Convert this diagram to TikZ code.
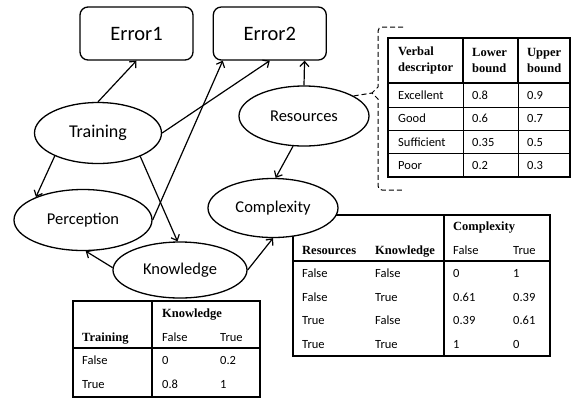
\documentclass[tikz,border=0pt]{standalone}
\usepackage{fontspec}
\setmainfont{Carlito}
\newfontfamily\hdrfont{Liberation Serif}
\usepackage{tikz}
\usetikzlibrary{positioning,shapes.geometric,arrows.meta}

\newcommand{\tabfont}{\fontsize{12.5}{15}\selectfont}
\newcommand{\hdrstyle}{\hdrfont\bfseries\fontsize{12.5}{16}\selectfont}

\begin{document}
\begin{tikzpicture}[
					x=1pt, y=-1pt,
					var/.style={
						draw, ellipse, line width=1.3pt, fill=white, inner sep=0pt,
						font=\fontsize{16.5}{18}\selectfont
					},
					err/.style={
						draw, rounded corners=8pt, line width=1.3pt, fill=white,
						minimum width=113pt, minimum height=53pt,
						font=\fontsize{20.5}{22}\selectfont
					},
					link/.style={
						line width=1.2pt, -{Straight Barb[length=5pt,width=9pt]}
					},
					frame/.style={line width=1.8pt},
					grid/.style={line width=0.7pt},
					txt/.style={anchor=base west, inner sep=0pt, font=\tabfont},
					htxt/.style={txt, align=left, font=\hdrstyle}
					]
					\useasboundingbox (0,0) rectangle (572,400);
					
					% Bảng mô tả
					\draw[grid] (463,83) -- (463,177) (518,83) -- (518,177);
					\foreach \y in {107,130,153} {
						\draw[grid] (388,\y) -- (570,\y);
					}
					\draw[frame] (388,38) rectangle (570,177);
					\draw[frame] (388,83) -- (570,83) (463,38) -- (463,83) (518,38) -- (518,83);
					\node[htxt, anchor=west] (desc-h1) at (398,60) {Verbal\\descriptor};
					\node[htxt, anchor=west] (desc-h2) at (472,60) {Lower\\bound};
					\node[htxt, anchor=west] (desc-h3) at (527,60) {Upper\\bound};
					\foreach \d/\lo/\up [count=\i] in {Excellent/0.8/0.9, Good/0.6/0.7, Sufficient/0.35/0.5, Poor/0.2/0.3} {
						\node[txt] (desc-\i-1) at (398,75.5+23.5*\i) {\d};
						\node[txt] (desc-\i-2) at (472,75.5+23.5*\i) {\lo};
						\node[txt] (desc-\i-3) at (527,75.5+23.5*\i) {\up};
					}
					
					% Bảng Complexity
					\draw[frame] (293,215) rectangle (550,356);
					\draw[frame] (444,215) -- (444,356) (293,261) -- (550,261);
					\node[htxt] (cpt-h) at (453,230) {Complexity};
					\node[htxt] (cpt-r) at (302,254) {Resources};
					\node[htxt] (cpt-k) at (375,254) {Knowledge};
					\node[txt] (cpt-f) at (453,254) {False};
					\node[txt] (cpt-t) at (513,254) {True};
					\foreach \r/\k/\f/\t [count=\i] in {False/False/0/1, False/True/0.61/0.39, True/False/0.39/0.61, True/True/1/0} {
						\node[txt] (cpt-\i-1) at (302,254+23.5*\i) {\r};
						\node[txt] (cpt-\i-2) at (375,254+23.5*\i) {\k};
						\node[txt] (cpt-\i-3) at (453,254+23.5*\i) {\f};
						\node[txt] (cpt-\i-4) at (513,254+23.5*\i) {\t};
					}
					
					% Bảng Knowledge
					\draw[frame] (73,301) rectangle (260,397);
					\draw[frame] (152,301) -- (152,397) (73,348) -- (260,348);
					\node[htxt] (kpt-h) at (162,317) {Knowledge};
					\node[htxt] (kpt-r) at (82,341.5) {Training};
					\node[txt] (kpt-f) at (162,341.5) {False};
					\node[txt] (kpt-t) at (220,341.5) {True};
					\foreach \r/\f/\t [count=\i] in {False/0/0.2, True/0.8/1} {
						\node[txt] (kpt-\i-1) at (82,340+24*\i) {\r};
						\node[txt] (kpt-\i-2) at (162,340+24*\i) {\f};
						\node[txt] (kpt-\i-3) at (220,340+24*\i) {\t};
					}
					
					% Các nút
					\node[err] (err1) at (136.5,33.5) {Error1};
					\node[err, right=19pt of err1] (err2) {Error2};
					\node[var, minimum width=127pt, minimum height=61pt, font=\fontsize{18}{20}\selectfont] (train) at (98,133) {Training};
					\node[var, minimum width=130pt, minimum height=60pt] (res) at (304,116) {Resources};
					\node[var, minimum width=138pt, minimum height=61pt] (perc) at (83,220) {Perception};
					\node[var, minimum width=130pt, minimum height=59pt] (cplx) at (273,208) {Complexity};
					\node[var, minimum width=134pt, minimum height=56pt] (know) at (180,270) {Knowledge};
					
					% Ngoặc nét đứt
					\coordinate (tip) at (372,93);
					\draw[dash pattern=on 5pt off 3pt, line width=1pt] (403,27) -- (382,27) to[out=180,in=90] (378,31) -- (378,87) -- (tip) -- (378,99) -- (378,186) to[out=-90,in=180] (382,190) -- (403,190);
					\draw[dash pattern=on 5pt off 3pt, line width=1pt] (res.22) -- (tip);
					
					% Các cung
					\draw[link] (train.north) -- (err1.south);
					\draw[link] (train.east) -- (err2.south);
					\draw[link] (perc.east) -- (err2.210);
					\draw[link] (res.north) -- (err2.-38);
					\draw[link] (train.208) -- (perc.154);
					\draw[link] (train.-29) -- (know.95);
					\draw[link] (res.250) -- (cplx.85);
					\draw[link] (know.178) -- (perc.-85);
					\draw[link] (know.east) -- (cplx.south);
				\end{tikzpicture}
\end{document}
